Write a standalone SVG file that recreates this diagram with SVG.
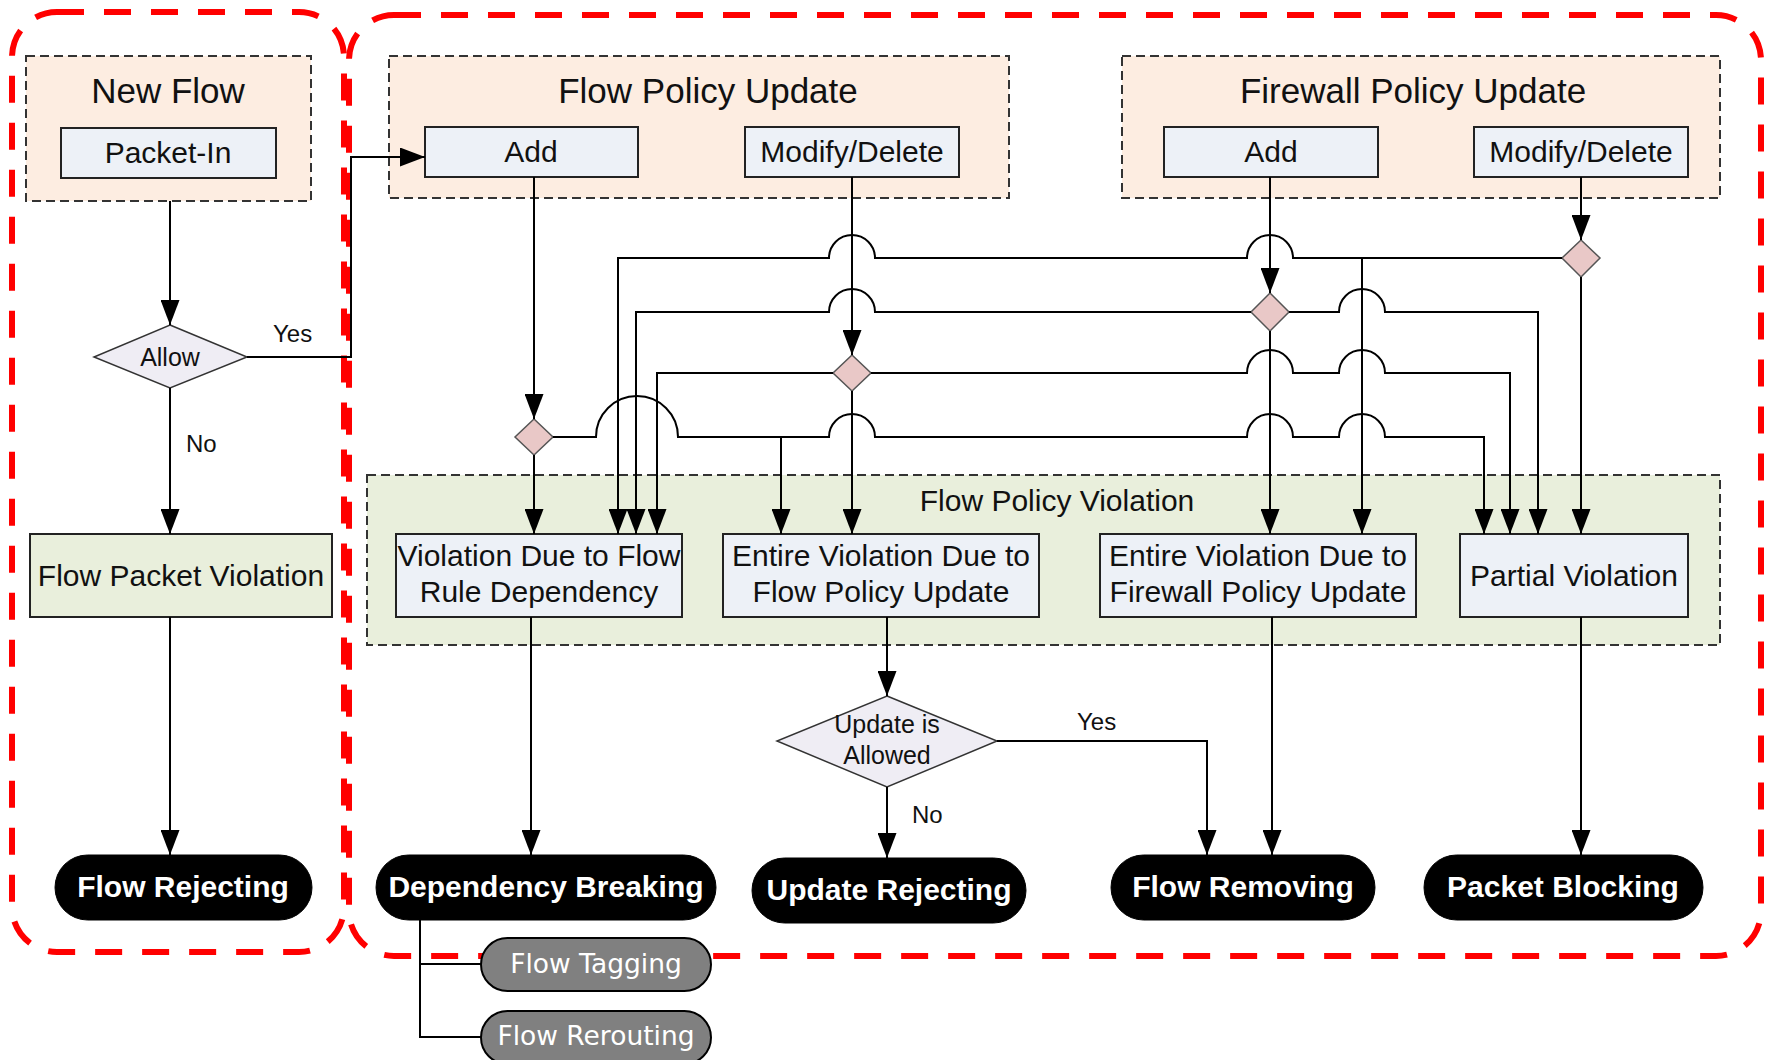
<svg xmlns="http://www.w3.org/2000/svg" width="1771" height="1060" viewBox="0 0 1771 1060">
<style>
.red{fill:none;stroke:#FF0000;stroke-width:6;stroke-dasharray:27 20}
.grp{stroke:#333;stroke-width:2;stroke-dasharray:9 5}
.peach{fill:#FDEDE1}
.green{fill:#E9EFDC}
.box{fill:#EDF1F7;stroke:#222;stroke-width:2}
.gbox{fill:#E9EFDC;stroke:#222;stroke-width:2}
.dec{fill:#EFEDF4;stroke:#333;stroke-width:1.5}
.sd{fill:#E9C8C7;stroke:#555;stroke-width:1.5}
.term{fill:#000;stroke:#000}
.sub{fill:#808080;stroke:#000;stroke-width:2}
.t{font-family:"Liberation Sans",Arial,sans-serif;fill:#111;text-anchor:middle}
.tt{font-size:35px}
.tb{font-size:30px}
.ts{font-size:25px}
.tl{font-size:24px;text-anchor:start}
.tw{font-family:"Liberation Sans",Arial,sans-serif;font-weight:bold;font-size:30px;fill:#fff;text-anchor:middle}
.tg{font-family:"DejaVu Sans",Verdana,sans-serif;font-size:26.5px;fill:#fff;text-anchor:middle}
.c{fill:none;stroke:#000;stroke-width:2}
.a{marker-end:url(#ah)}
</style>
<defs>
<marker id="ah" markerUnits="userSpaceOnUse" markerWidth="25" markerHeight="19" refX="25" refY="9.5" orient="auto">
<path d="M0,0 L25,9.5 L0,19 z" fill="#000"/>
</marker>
</defs>

<g id="regions">
<rect class="red" x="12" y="12" width="332" height="940" rx="45"/>
<rect class="red" x="349" y="15" width="1412" height="941" rx="45"/>
</g>

<g id="new-flow">
<rect class="peach grp" x="26" y="56" width="285" height="145"/>
<text class="t tt" x="168" y="103">New Flow</text>
</g>
<g id="flow-policy-update">
<rect class="peach grp" x="389" y="56" width="620" height="142"/>
<text class="t tt" x="708" y="103">Flow Policy Update</text>
</g>
<g id="firewall-policy-update">
<rect class="peach grp" x="1122" y="56" width="598" height="142"/>
<text class="t tt" x="1413" y="103">Firewall Policy Update</text>
</g>
<g id="flow-policy-violation">
<rect class="green grp" x="367" y="475" width="1353" height="170"/>
<text class="t tb" x="1057" y="511">Flow Policy Violation</text>
</g>

<g id="packet-in">
<rect class="box" x="61" y="128" width="215" height="50"/>
<text class="t tb" x="168" y="163">Packet-In</text>
</g>
<g id="flow-add">
<rect class="box" x="425" y="127" width="213" height="50"/>
<text class="t tb" x="531" y="162">Add</text>
</g>
<g id="flow-modify-delete">
<rect class="box" x="745" y="127" width="214" height="50"/>
<text class="t tb" x="852" y="162">Modify/Delete</text>
</g>
<g id="fw-add">
<rect class="box" x="1164" y="127" width="214" height="50"/>
<text class="t tb" x="1271" y="162">Add</text>
</g>
<g id="fw-modify-delete">
<rect class="box" x="1474" y="127" width="214" height="50"/>
<text class="t tb" x="1581" y="162">Modify/Delete</text>
</g>

<g id="allow">
<polygon class="dec" points="170,325 247,357 170,388 94,357"/>
<text class="t ts" x="170" y="366">Allow</text>
</g>

<g id="flow-packet-violation">
<rect class="gbox" x="30" y="534" width="302" height="83"/>
<text class="t tb" x="181" y="586">Flow Packet Violation</text>
</g>
<g id="violation-dependency">
<rect class="box" x="396" y="534" width="286" height="83"/>
<text class="t tb" x="539" y="566">Violation Due to Flow</text>
<text class="t tb" x="539" y="602">Rule Dependency</text>
</g>
<g id="entire-violation-flow">
<rect class="box" x="723" y="534" width="316" height="83"/>
<text class="t tb" x="881" y="566">Entire Violation Due to</text>
<text class="t tb" x="881" y="602">Flow Policy Update</text>
</g>
<g id="entire-violation-firewall">
<rect class="box" x="1100" y="534" width="316" height="83"/>
<text class="t tb" x="1258" y="566">Entire Violation Due to</text>
<text class="t tb" x="1258" y="602">Firewall Policy Update</text>
</g>
<g id="partial-violation">
<rect class="box" x="1460" y="534" width="228" height="83"/>
<text class="t tb" x="1574" y="586">Partial Violation</text>
</g>

<g id="d1"><polygon class="sd" points="534,419 553,437 534,455 515,437"/></g>
<g id="d2"><polygon class="sd" points="852,355 871,373 852,391 833,373"/></g>
<g id="d3"><polygon class="sd" points="1270,293 1289,312 1270,331 1251,312"/></g>
<g id="d4"><polygon class="sd" points="1581,240 1600,258 1581,277 1562,258"/></g>

<g id="update-allowed">
<polygon class="dec" points="887,696 997,741 887,787 777,741"/>
<text class="t ts" x="887" y="733">Update is</text>
<text class="t ts" x="887" y="764">Allowed</text>
</g>

<g id="flow-rejecting">
<rect class="term" x="55" y="855" width="257" height="65" rx="32.5"/>
<text class="tw" x="183" y="897">Flow Rejecting</text>
</g>
<g id="dependency-breaking">
<rect class="term" x="376" y="855" width="340" height="65" rx="32.5"/>
<text class="tw" x="546" y="897">Dependency Breaking</text>
</g>
<g id="update-rejecting">
<rect class="term" x="752" y="858" width="274" height="65" rx="32.5"/>
<text class="tw" x="889" y="900">Update Rejecting</text>
</g>
<g id="flow-removing">
<rect class="term" x="1111" y="855" width="264" height="65" rx="32.5"/>
<text class="tw" x="1243" y="897">Flow Removing</text>
</g>
<g id="packet-blocking">
<rect class="term" x="1424" y="855" width="279" height="65" rx="32.5"/>
<text class="tw" x="1563" y="897">Packet Blocking</text>
</g>
<g id="flow-tagging">
<rect class="sub" x="481" y="938" width="230" height="53" rx="26.5"/>
<text class="tg" x="596" y="973">Flow Tagging</text>
</g>
<g id="flow-rerouting">
<rect class="sub" x="481" y="1011" width="230" height="53" rx="26.5"/>
<text class="tg" x="596" y="1045">Flow Rerouting</text>
</g>

<g id="connectors">
<path class="c a" d="M170,201 V325"/>
<path class="c a" d="M247,357 H351 V157 H425"/>
<path class="c a" d="M170,388 V534"/>
<path class="c a" d="M170,617 V855"/>
<path class="c a" d="M534,177 V419"/>
<path class="c a" d="M534,455 V534"/>
<path class="c a" d="M852,177 V355"/>
<path class="c a" d="M852,391 V534"/>
<path class="c a" d="M1270,177 V293"/>
<path class="c a" d="M1270,331 V534"/>
<path class="c a" d="M1581,177 V240"/>
<path class="c a" d="M1581,277 V534"/>
<path class="c a" d="M1562,258 H1293 A23,23 0 0 0 1247,258 H875 A23,23 0 0 0 829,258 H618 V534"/>
<path class="c a" d="M1362,258 V534"/>
<path class="c a" d="M1251,312 H875 A23,23 0 0 0 829,312 H636 V534"/>
<path class="c a" d="M1289,312 H1339 A23,23 0 0 1 1385,312 H1538 V534"/>
<path class="c a" d="M833,373 H657 V534"/>
<path class="c a" d="M871,373 H1247 A23,23 0 0 1 1293,373 H1339 A23,23 0 0 1 1385,373 H1510 V534"/>
<path class="c a" d="M553,437 H596 A41,41 0 0 1 678,437 H829 A23,23 0 0 1 875,437 H1247 A23,23 0 0 1 1293,437 H1339 A23,23 0 0 1 1385,437 H1484 V534"/>
<path class="c a" d="M781,437 V534"/>
<path class="c a" d="M531,617 V855"/>
<path class="c a" d="M887,617 V696"/>
<path class="c a" d="M887,787 V858"/>
<path class="c a" d="M997,741 H1207 V855"/>
<path class="c a" d="M1272,617 V855"/>
<path class="c a" d="M1581,617 V855"/>
<path class="c" d="M420,920 V1037 H481 M420,964 H481"/>
</g>

<g id="labels">
<text class="t tl" x="273" y="342">Yes</text>
<text class="t tl" x="186" y="452">No</text>
<text class="t tl" x="1077" y="730">Yes</text>
<text class="t tl" x="912" y="823">No</text>
</g>
</svg>
